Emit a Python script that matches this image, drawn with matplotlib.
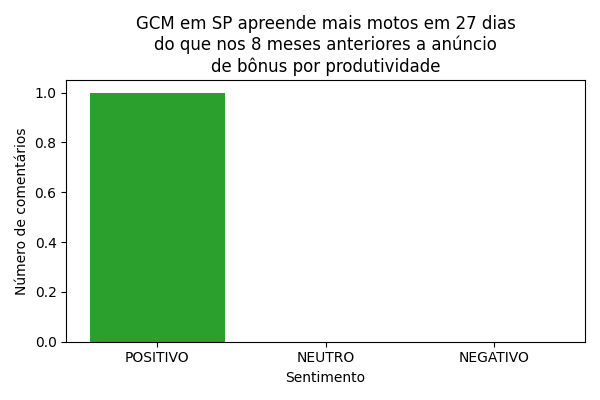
import matplotlib
matplotlib.use('Agg')
import matplotlib.pyplot as plt

# Data
sentimentos = ['POSITIVO', 'NEUTRO', 'NEGATIVO']
contagens = [1, 0, 0]
cores = ['#2ca02c', '#7f7f7f', '#d62728']

titulo = ('GCM em SP apreende mais motos em 27 dias\n'
          'do que nos 8 meses anteriores a anúncio\n'
          'de bônus por produtividade')

fig, ax = plt.subplots(figsize=(6, 4), dpi=100)
ax.bar(sentimentos, contagens, color=cores)
ax.set_title(titulo)
ax.set_xlabel('Sentimento')
ax.set_ylabel('Número de comentários')

plt.tight_layout()
plt.savefig('out.png')
